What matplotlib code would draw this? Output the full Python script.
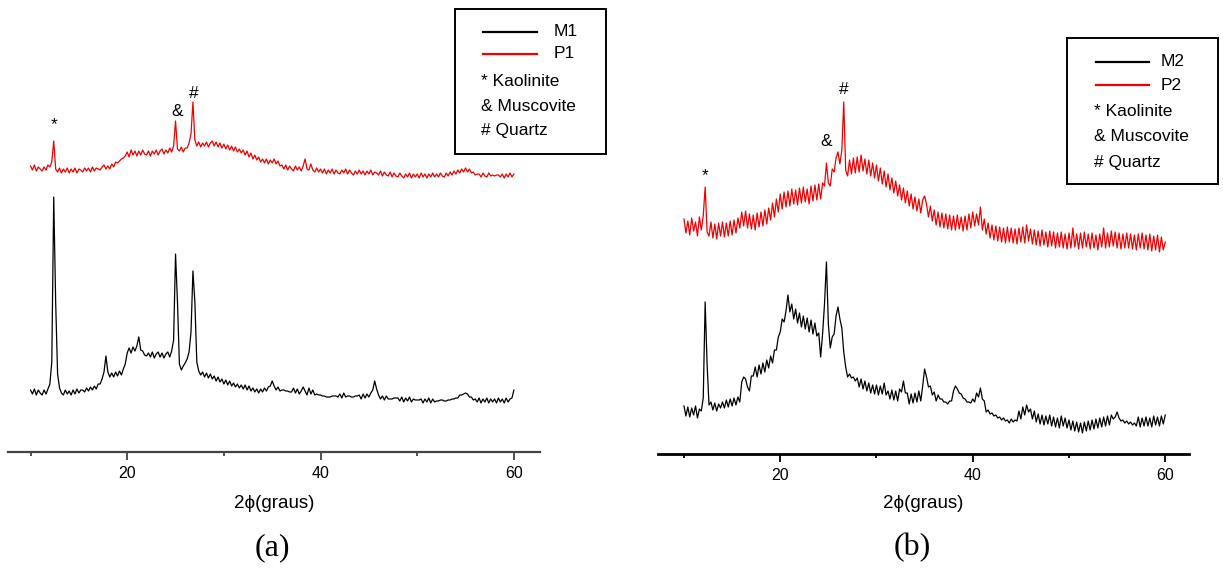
import numpy as np
import matplotlib.pyplot as plt
from matplotlib.patches import Rectangle
from matplotlib.lines import Line2D

# Diffraction angle grid, 2-theta in degrees (0.2 deg step)
two_theta = np.round(np.linspace(10, 60, 251), 1)

# Panel (a): intensities (a.u., red trace carries its vertical offset)
p1 = [
    286, 282, 287, 281, 285, 283, 281, 285, 282, 287,
    285, 290, 311, 283, 280, 284, 279, 283, 280, 284,
    279, 283, 280, 284, 279, 283, 282, 280, 284, 281,
    284, 280, 285, 281, 284, 283, 282, 285, 287, 283,
    286, 283, 288, 285, 290, 289, 291, 293, 294, 296,
    300, 295, 302, 297, 301, 296, 301, 297, 302, 298,
    297, 301, 296, 301, 298, 302, 297, 301, 303, 298,
    302, 299, 304, 300, 306, 331, 303, 301, 305, 300,
    304, 304, 309, 318, 350, 312, 306, 310, 305, 309,
    306, 310, 305, 309, 311, 306, 310, 305, 309, 304,
    308, 303, 307, 302, 306, 301, 305, 300, 303, 299,
    302, 297, 301, 295, 299, 293, 297, 292, 295, 290,
    293, 289, 293, 288, 292, 289, 293, 288, 291, 286,
    287, 283, 287, 282, 286, 283, 281, 286, 282, 285,
    281, 286, 293, 283, 282, 288, 282, 280, 284, 280,
    283, 279, 283, 278, 282, 279, 283, 278, 282, 279,
    278, 282, 279, 283, 278, 282, 279, 277, 281, 278,
    282, 278, 281, 277, 281, 278, 282, 277, 280, 279,
    277, 281, 276, 280, 277, 276, 280, 275, 279, 276,
    275, 279, 276, 274, 278, 275, 279, 274, 278, 275,
    278, 274, 279, 275, 278, 274, 278, 275, 279, 275,
    278, 275, 279, 276, 275, 279, 276, 280, 277, 281,
    278, 282, 279, 283, 280, 284, 280, 283, 279, 280,
    277, 278, 278, 275, 279, 276, 275, 279, 276, 277,
    276, 277, 277, 275, 278, 274, 278, 275, 279, 275,
    278,
]
m1 = [
    62, 58, 63, 57, 62, 59, 57, 62, 58, 63,
    68, 90, 255, 150, 78, 64, 59, 57, 62, 58,
    61, 57, 62, 58, 63, 59, 62, 62, 60, 64,
    61, 65, 62, 66, 63, 68, 68, 73, 80, 96,
    80, 75, 79, 75, 80, 76, 81, 77, 83, 88,
    99, 104, 99, 105, 101, 106, 115, 102, 101, 97,
    96, 99, 95, 100, 94, 98, 100, 95, 99, 94,
    98, 100, 95, 101, 112, 198, 150, 88, 82, 86,
    89, 93, 100, 120, 181, 150, 90, 81, 77, 80,
    75, 79, 74, 78, 73, 76, 71, 75, 70, 73,
    68, 72, 67, 71, 66, 69, 65, 68, 64, 67,
    63, 67, 62, 66, 61, 64, 60, 63, 59, 63,
    60, 64, 61, 65, 66, 71, 66, 62, 65, 61,
    62, 62, 61, 61, 60, 60, 64, 59, 63, 58,
    61, 65, 61, 57, 64, 58, 62, 57, 58, 57,
    57, 56, 56, 55, 55, 55, 56, 56, 56, 55,
    58, 54, 59, 55, 56, 56, 55, 55, 56, 56,
    57, 53, 58, 54, 58, 55, 59, 62, 71, 63,
    57, 53, 56, 52, 56, 53, 53, 53, 54, 54,
    54, 51, 55, 50, 54, 51, 55, 50, 53, 52,
    52, 52, 53, 49, 53, 50, 54, 49, 53, 50,
    51, 51, 52, 52, 51, 51, 52, 52, 53, 53,
    54, 54, 57, 57, 58, 59, 58, 55, 55, 52,
    53, 50, 54, 49, 53, 50, 54, 49, 53, 50,
    53, 49, 54, 50, 53, 49, 54, 50, 53, 54,
    62,
]

# Panel (b)
p2 = [
    235, 221, 233, 219, 236, 223, 232, 218, 237, 224,
    238, 267, 222, 218, 232, 216, 230, 215, 231, 218,
    232, 217, 231, 218, 233, 219, 234, 221, 236, 226,
    242, 228, 243, 226, 240, 225, 239, 224, 241, 227,
    242, 228, 244, 230, 246, 234, 251, 237, 255, 242,
    260, 245, 262, 247, 263, 248, 265, 250, 264, 249,
    266, 251, 267, 252, 265, 250, 268, 253, 269, 254,
    270, 255, 271, 268, 291, 271, 268, 285, 282, 296,
    302, 290, 304, 352, 284, 278, 294, 280, 296, 281,
    297, 282, 299, 283, 295, 280, 294, 278, 291, 276,
    289, 273, 286, 270, 283, 267, 280, 264, 276, 261,
    273, 258, 269, 254, 266, 251, 263, 248, 260, 245,
    257, 243, 255, 241, 254, 258, 250, 237, 248, 233,
    244, 229, 242, 227, 241, 226, 240, 225, 239, 224,
    238, 224, 239, 225, 237, 223, 238, 224, 240, 226,
    242, 228, 240, 229, 247, 224, 235, 220, 231, 216,
    229, 214, 228, 213, 227, 212, 226, 211, 227, 212,
    226, 211, 225, 210, 226, 212, 227, 211, 229, 213,
    225, 210, 224, 209, 223, 208, 224, 209, 222, 207,
    223, 208, 222, 206, 221, 207, 222, 206, 220, 205,
    221, 206, 226, 207, 220, 205, 221, 206, 222, 207,
    220, 205, 221, 206, 219, 204, 220, 207, 226, 206,
    221, 207, 223, 208, 222, 206, 221, 205, 220, 206,
    221, 206, 220, 205, 219, 204, 220, 206, 221, 205,
    219, 204, 220, 203, 218, 204, 219, 202, 217, 204,
    212,
]
m2 = [
    48, 38, 47, 37, 46, 39, 48, 36, 45, 43,
    56, 152, 90, 49, 52, 44, 51, 43, 50, 46,
    52, 46, 54, 47, 55, 48, 56, 49, 57, 52,
    72, 77, 75, 67, 63, 78, 78, 87, 77, 89,
    80, 91, 82, 94, 86, 98, 91, 104, 104, 117,
    122, 135, 132, 143, 159, 142, 150, 135, 145, 131,
    141, 127, 138, 125, 136, 122, 134, 120, 131, 118,
    121, 97, 120, 150, 192, 130, 106, 117, 120, 138,
    147, 135, 126, 102, 87, 77, 80, 76, 77, 73,
    76, 67, 75, 65, 73, 63, 71, 61, 69, 60,
    69, 59, 68, 60, 71, 59, 63, 55, 64, 54,
    63, 53, 65, 62, 73, 61, 61, 50, 60, 51,
    61, 52, 63, 53, 68, 85, 77, 67, 68, 59,
    62, 53, 59, 55, 55, 52, 52, 50, 53, 53,
    63, 68, 65, 61, 60, 56, 55, 52, 52, 51,
    55, 52, 61, 57, 66, 55, 53, 42, 44, 40,
    41, 38, 39, 36, 37, 34, 36, 33, 34, 31,
    35, 32, 34, 33, 43, 35, 47, 39, 49, 42,
    45, 35, 43, 32, 40, 30, 39, 29, 38, 30,
    39, 28, 37, 27, 36, 26, 38, 28, 36, 26,
    34, 24, 33, 23, 32, 22, 31, 21, 32, 23,
    33, 24, 34, 25, 35, 26, 36, 27, 37, 28,
    38, 29, 39, 35, 37, 42, 36, 33, 34, 31,
    33, 30, 32, 29, 31, 28, 37, 27, 36, 28,
    37, 28, 36, 27, 38, 29, 37, 28, 38, 30,
    39,
]

# Phase markers: symbol, 2-theta, height
marks_a = [("*", 12.43, 327), ("&", 25.15, 341), ("#", 26.9, 358)]
marks_b = [("*", 12.18, 278), ("&", 24.75, 312), ("#", 26.57, 364)]
phase_lines = ["* Kaolinite", "& Muscovite", "# Quartz"]

SANS = ["Liberation Sans", "DejaVu Sans"]
SERIF = ["Liberation Serif", "DejaVu Serif"]
RED = "#f00000"
W, H = 1223, 573

fig = plt.figure(figsize=(W / 100, H / 100), dpi=100)


def fx(x):
    return x / W


def fy(y):
    return 1 - y / H


def panel(rect, xlim, top, black, red, marks, spine_color, spine_w):
    ax = fig.add_axes(rect)
    ax.patch.set_alpha(0)
    ax.set_xlim(*xlim)
    ax.set_ylim(0, top)
    ax.plot(two_theta, black, color="black", lw=0.9)
    ax.plot(two_theta, red, color=RED, lw=0.9)
    for s in ("left", "right", "top"):
        ax.spines[s].set_visible(False)
    ax.spines["bottom"].set_color(spine_color)
    ax.spines["bottom"].set_linewidth(spine_w)
    ax.set_yticks([])
    ax.set_xticks([20, 40, 60])
    ax.set_xticks([10, 30, 50], minor=True)
    ax.tick_params(axis="x", which="major", length=6, width=1.3,
                   color=spine_color, pad=4, labelsize=11.5)
    ax.tick_params(axis="x", which="minor", length=3, width=1.3,
                   color=spine_color)
    for lab in ax.get_xticklabels():
        lab.set_family(SANS)
    for sym, x, y in marks:
        ax.text(x, y, sym, ha="center", va="center", fontsize=12.5,
                family=SANS)
    return ax


def legend_box(x0, y0, x1, y1, lx0, lx1, ly_black, ly_red, tx, names,
               px, py0, dpy):
    fig.patches.append(Rectangle((fx(x0), fy(y1)), fx(x1) - fx(x0),
                                 fy(y0) - fy(y1), transform=fig.transFigure,
                                 fill=False, edgecolor="black", lw=1.4))
    for ly, c, name in ((ly_black, "black", names[0]), (ly_red, RED, names[1])):
        fig.lines.append(Line2D([fx(lx0), fx(lx1)], [fy(ly), fy(ly)],
                                transform=fig.transFigure, color=c, lw=1.6))
        fig.text(fx(tx), fy(ly), name, ha="left", va="center", fontsize=12.5,
                 family=SANS)
    for i, t in enumerate(phase_lines):
        fig.text(fx(px), fy(py0 + i * dpy), t, ha="left", va="center",
                 fontsize=12.5, family=SANS)


panel([fx(8), fy(452), fx(540) - fx(8), 452 / H], (7.67, 62.7), 452,
      m1, p1, marks_a, "#444444", 1.6)
panel([fx(658), fy(454), fx(1189) - fx(658), 454 / H], (7.30, 62.47), 454,
      m2, p2, marks_b, "black", 2.0)

legend_box(455, 9, 606, 154, 483, 537, 32, 54, 554, ("M1", "P1"),
           481, 82, 24.5)
legend_box(1067, 38, 1218, 184, 1096, 1149, 62, 85, 1161, ("M2", "P2"),
           1094, 112, 25)

for xc in (274, 923):
    fig.text(fx(xc), fy(503), "2\u03d5(graus)", ha="center", va="center",
             fontsize=13.5, family=SANS)

fig.text(fx(272), fy(548), "(a)", ha="center", va="center", fontsize=23,
         family=SERIF)
fig.text(fx(912), fy(548), "(b)", ha="center", va="center", fontsize=23,
         family=SERIF)

fig.savefig("out.png", dpi=100)
